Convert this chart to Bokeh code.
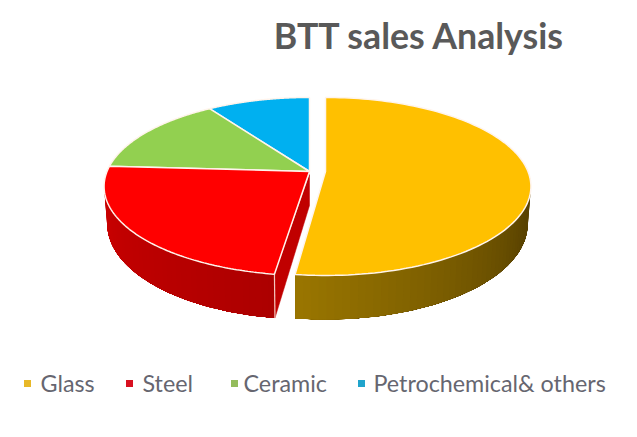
import numpy as np
from bokeh.plotting import figure
from bokeh.models import Range1d
from bokeh.core.properties import value
from bokeh.embed import file_html
from bokeh.resources import INLINE

TITLE = "BTT sales Analysis"
categories = ["Glass", "Steel", "Ceramic", "Petrochemical& others"]
shares = [52, 24, 14.5, 9.5]
top_colors = ["#FFC000", "#FF0000", "#92D050", "#00B0F0"]
legend_colors = ["#E8B828", "#D81020", "#94BC5C", "#20A4CC"]
legend_marker_x = [27, 129, 234, 361]
legend_text_x = [40, 142, 243, 373]
apex_x = [325, 309, 309, 309]
side_ramps = {0: ("#9A7600", "#5A4300"), 1: ("#AC0000", "#D40000")}

APEX_Y, A, B, K = 171.0, 202.5, 86.5, 0.168
STEEL_GAP = np.radians(1.1)


def project(theta, ax, lower=False):
    u, v = np.sin(theta), -np.cos(theta)
    w = 1 - K * v
    x, y = A * u / w, B * v / w
    if lower:
        return ax + 0.985 * x, APEX_Y + y + 36 + 8 * v
    return ax + x, APEX_Y + y


def mix(c0, c1, t):
    a = [int(c0[i:i + 2], 16) for i in (1, 3, 5)]
    b = [int(c1[i:i + 2], 16) for i in (1, 3, 5)]
    return "#%02x%02x%02x" % tuple(int(round(p + (q - p) * t)) for p, q in zip(a, b))


edges = np.radians(np.concatenate([[0], np.cumsum(shares)]) * 3.6)
starts = edges[:-1].copy()
starts[1] += STEEL_GAP

p = figure(width=621, height=421, output_backend="svg", toolbar_location=None,
           x_range=Range1d(0, 621), y_range=Range1d(421, 0), min_border=0,
           outline_line_color=None, background_fill_color="white", border_fill_color="white")
p.axis.visible = False
p.grid.visible = False

# extruded rim, as a ramp of strips that each overlap the next one
rim_limits = {0: (np.radians(75), edges[1]), 1: (np.radians(282), starts[1])}
for i, (t0, t1) in rim_limits.items():
    n = 60
    steps = np.linspace(t0, t1, n + 1)
    xs, ys, cols = [], [], []
    for j in range(n):
        arc = np.linspace(steps[j], t1, 2 + (n - j) // 4)
        x0, y0 = project(arc, apex_x[i])
        x1, y1 = project(arc[::-1], apex_x[i], lower=True)
        xs.append(list(x0) + list(x1))
        ys.append(list(y0) + list(y1))
        f = (j + 0.5) / n
        cols.append(mix(*side_ramps[i], min(1.0, (1 - f) * 1.5) if i == 0 else 1 - f))
    p.patches(xs, ys, fill_color=cols, line_color=None)

# cut face of the steel wedge
ex, ey = project(np.array([starts[1]]), apex_x[1])
lx, ly = project(np.array([starts[1]]), apex_x[1], lower=True)
p.patch([apex_x[1], apex_x[1], lx[0], ex[0]], [APEX_Y + 3, APEX_Y + 34, ly[0], ey[0]],
        fill_color="#C00000", line_color="#C00000", line_width=0.5)
p.line([ex[0], lx[0]], [ey[0], ly[0]], line_color="#F4C8C0", line_width=1.2)

# top faces
for i in [3, 2, 1, 0]:
    th = np.linspace(starts[i], edges[i + 1], 120)
    x, y = project(th, apex_x[i])
    p.patch([apex_x[i]] + list(x), [APEX_Y] + list(y), fill_color=top_colors[i],
            line_color="#FFF4EC", line_width=1.5)

p.text(x=[419], y=[35], text=[TITLE], text_font=value("Lato"), text_font_style="bold",
       text_font_size="35.7px", text_color="#595959", text_align="center", text_baseline="middle")
p.scatter(legend_marker_x, [383] * 4, marker="square", size=7, fill_color=legend_colors, line_color=None)
p.text(x=legend_text_x, y=[382.5] * 4, text=categories, text_font=value("Lato"), text_font_size="23.3px",
       text_color="#666670", text_align="left", text_baseline="middle")

open("out.html", "w").write(file_html(p, INLINE))
